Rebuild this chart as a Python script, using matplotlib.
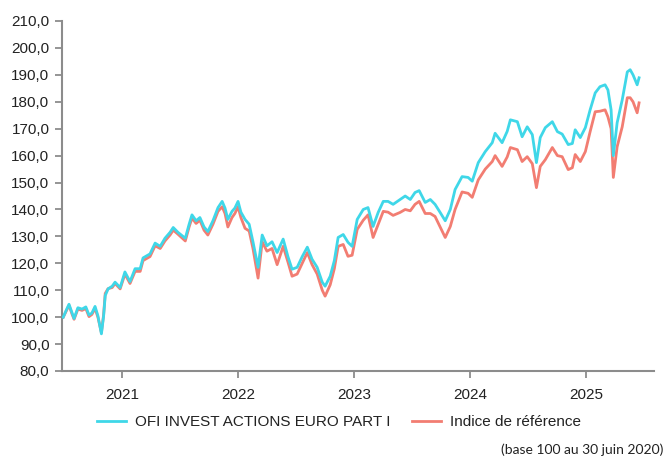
import matplotlib
matplotlib.use("Agg")
import matplotlib.pyplot as plt
import pandas as pd

dates = [
    "2020-06-30", "2020-07-09", "2020-07-18", "2020-07-28", "2020-08-03", "2020-08-15",
    "2020-08-28", "2020-09-09", "2020-09-19", "2020-09-28", "2020-10-08", "2020-10-17",
    "2020-10-28", "2020-11-04", "2020-11-09", "2020-11-18", "2020-12-01", "2020-12-10",
    "2020-12-26", "2021-01-10", "2021-01-26", "2021-02-11", "2021-02-27", "2021-03-08",
    "2021-03-30", "2021-04-15", "2021-05-01", "2021-05-16", "2021-06-01", "2021-06-11",
    "2021-06-26", "2021-07-19", "2021-07-31", "2021-08-09", "2021-08-22", "2021-09-03",
    "2021-09-16", "2021-09-28", "2021-10-14", "2021-10-30", "2021-11-12", "2021-11-21",
    "2021-11-30", "2021-12-13", "2021-12-22", "2022-01-01", "2022-01-10", "2022-01-23",
    "2022-02-05", "2022-02-17", "2022-03-05", "2022-03-18", "2022-04-02", "2022-04-18",
    "2022-05-04", "2022-05-23", "2022-06-07", "2022-06-20", "2022-07-06", "2022-07-22",
    "2022-08-07", "2022-08-22", "2022-09-07", "2022-09-23", "2022-10-02", "2022-10-18",
    "2022-10-31", "2022-11-12", "2022-11-28", "2022-12-13", "2022-12-26", "2023-01-11",
    "2023-01-30", "2023-02-14", "2023-03-02", "2023-03-18", "2023-04-03", "2023-04-18",
    "2023-05-04", "2023-05-26", "2023-06-11", "2023-06-27", "2023-07-12", "2023-07-25",
    "2023-08-13", "2023-08-29", "2023-09-13", "2023-09-29", "2023-10-15", "2023-10-31",
    "2023-11-15", "2023-12-07", "2023-12-26", "2024-01-08", "2024-01-27", "2024-02-18",
    "2024-03-11", "2024-03-20", "2024-04-11", "2024-04-27", "2024-05-07", "2024-05-29",
    "2024-06-13", "2024-06-29", "2024-07-15", "2024-07-28", "2024-08-09", "2024-08-25",
    "2024-09-16", "2024-10-02", "2024-10-17", "2024-11-05", "2024-11-18", "2024-11-27",
    "2024-12-13", "2024-12-29", "2025-01-13", "2025-01-29", "2025-02-13", "2025-03-01",
    "2025-03-10", "2025-03-20", "2025-03-27", "2025-04-08", "2025-04-24", "2025-05-10",
    "2025-05-19", "2025-05-28", "2025-06-10", "2025-06-16",
]

fund = [
    100.0, 102.5, 104.8, 101.5, 99.5, 103.5,
    103.0, 103.8, 100.8, 101.5, 104.0, 100.5,
    93.8, 100.5, 108.0, 110.5, 111.5, 113.0,
    111.0, 116.8, 113.2, 118.0, 118.0, 122.0,
    123.5, 127.5, 126.3, 129.3, 131.5, 133.3,
    131.5, 129.3, 134.5, 138.0, 135.8, 137.0,
    133.5, 131.8, 135.8, 140.7, 143.0, 140.5,
    136.3, 139.3, 140.5, 143.0, 139.0, 136.3,
    134.5, 128.0, 118.5, 130.5, 126.5, 128.0,
    124.0, 129.0, 122.5, 117.8, 118.5, 122.5,
    126.0, 121.5, 118.5, 113.0, 111.5, 115.2,
    121.0, 129.6, 130.7, 127.8, 126.3, 136.3,
    140.0, 140.7, 133.7, 138.9, 143.0, 143.0,
    141.9, 143.7, 145.0, 143.7, 146.3, 147.0,
    142.6, 143.7, 141.9, 138.9, 135.8, 140.0,
    147.4, 152.2, 151.9, 150.5, 157.4, 161.5,
    164.8, 168.3, 164.8, 169.0, 173.3, 172.6,
    167.0, 170.7, 167.8, 157.4, 166.7, 170.4,
    172.6, 168.9, 168.0, 164.1, 164.5, 169.6,
    166.7, 170.4, 177.0, 183.3, 185.6, 186.3,
    184.4, 177.0, 160.0, 172.2, 180.7, 191.1,
    191.9, 190.0, 186.3, 188.9,
]

index = [
    100.0, 102.2, 104.4, 101.0, 99.2, 103.0,
    102.5, 103.2, 100.2, 101.0, 103.2, 100.0,
    94.2, 101.0, 108.8, 110.6, 111.0, 112.5,
    110.5, 116.0, 112.5, 117.0, 117.0, 121.0,
    122.5, 126.5, 125.5, 128.3, 130.5, 132.3,
    130.8, 128.3, 133.5, 136.8, 134.8, 136.0,
    132.3, 130.5, 134.5, 139.3, 141.0, 138.5,
    133.5, 137.0, 138.5, 141.0, 137.0, 133.0,
    132.0, 125.5, 114.5, 128.0, 124.5, 125.5,
    119.5, 126.3, 120.5, 115.2, 116.0, 120.0,
    124.0, 119.5, 116.0, 110.0, 107.8, 112.0,
    118.0, 126.3, 127.0, 122.6, 123.0, 132.6,
    136.0, 138.0, 129.6, 134.5, 139.3, 139.0,
    137.8, 138.9, 140.0, 139.5, 141.9, 143.0,
    138.5, 138.5, 137.4, 133.5, 129.6, 133.7,
    140.0, 146.5, 146.0, 144.5, 151.0, 155.0,
    157.8, 160.0, 156.0, 159.5, 163.0, 162.2,
    157.8, 159.6, 157.0, 148.1, 156.0, 158.5,
    163.0, 160.0, 159.6, 154.8, 155.5, 160.4,
    157.8, 161.5, 168.9, 176.3, 176.5, 177.0,
    174.4, 170.0, 151.9, 163.3, 170.7, 181.5,
    181.5, 180.0, 175.9, 179.6,
]

year_labels = ["2021", "2022", "2023", "2024", "2025"]
y_ticks = [80, 90, 100, 110, 120, 130, 140, 150, 160, 170, 180, 190, 200, 210]

fund_label = "OFI INVEST ACTIONS EURO PART I"
index_label = "Indice de référence"
note = "(base 100 au 30 juin 2020)"

plt.rcParams["font.family"] = ["Liberation Sans", "DejaVu Sans"]

W, H = 668, 457
fig = plt.figure(figsize=(W / 100, H / 100), dpi=100)
ax = fig.add_axes([62 / W, 1 - 371 / H, (654 - 62) / W, (371 - 21) / H])

d = pd.to_datetime(dates)
l_idx, = ax.plot(d, index, color="#F27D72", lw=2.0, zorder=2, label=index_label)
l_fund, = ax.plot(d, fund, color="#3FD7E8", lw=2.0, zorder=3, label=fund_label)

ax.set_ylim(80, 210)
ax.set_xlim(pd.Timestamp("2020-06-26"), pd.Timestamp("2025-08-02"))
ax.set_yticks(y_ticks)
ax.set_yticklabels([f"{v:.1f}".replace(".", ",") for v in y_ticks])
ax.set_xticks([pd.Timestamp(f"{y}-01-01") for y in year_labels])
ax.set_xticklabels(year_labels)

for s in ["top", "right"]:
    ax.spines[s].set_visible(False)
for s in ["left", "bottom"]:
    ax.spines[s].set_color("#8c8c8c")
    ax.spines[s].set_linewidth(1.5)
ax.tick_params(axis="both", colors="#8c8c8c", labelcolor="#222222",
               labelsize=11, width=1.3, length=5)
ax.tick_params(axis="y", pad=4)
ax.tick_params(axis="x", pad=7)

fig.legend([l_fund, l_idx], [fund_label, index_label], loc="center",
           bbox_to_anchor=(339 / W, 1 - 422 / H), ncol=2, frameon=False,
           fontsize=11, handlelength=1.9, handletextpad=0.6,
           columnspacing=1.4, labelcolor="#222222")

fig.text(663 / W, 1 - 450 / H, note, ha="right", va="center",
         fontsize=10, color="#222222", family=["Lato", "DejaVu Sans"])

fig.savefig("out.png", dpi=100)
